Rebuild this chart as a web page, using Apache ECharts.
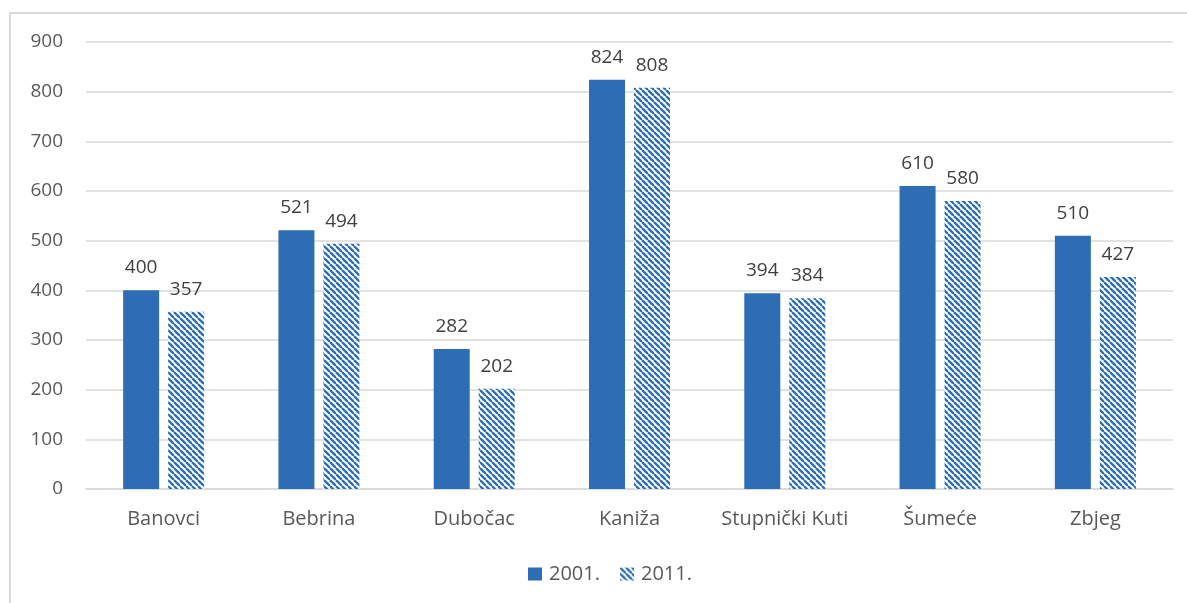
<!DOCTYPE html>
<html><head><meta charset="utf-8">
<script src="https://cdn.jsdelivr.net/npm/echarts@6/dist/echarts.min.js"></script>
<style>html,body{margin:0;padding:0;background:#fff}#c{width:1187px;height:603px}</style>
</head><body><div id="c"></div>
<script>
const categories = ['Banovci','Bebrina','Dubočac','Kaniža','Stupnički Kuti','Šumeće','Zbjeg'];
const values2001 = [400,521,282,824,394,610,510];
const values2011 = [357,494,202,808,384,580,427];
const seriesNames = ['2001.','2011.'];

const blue = '#2C6DB4';
function hatch(){
  const s = 6, c = document.createElement('canvas');
  c.width = s; c.height = s;
  const g = c.getContext('2d');
  g.fillStyle = '#fff'; g.fillRect(0,0,s,s);
  g.strokeStyle = blue; g.lineWidth = 2.3;
  for (let k=-1;k<=1;k++){
    g.beginPath(); g.moveTo(k*s, 0); g.lineTo(k*s + s, s); g.stroke();
  }
  return c;
}
const chart = echarts.init(document.getElementById('c'));
const font = '"Open Sans", sans-serif';
const labelStyle = {show:true, position:'top', distance:13, fontSize:19, color:'#404040', fontFamily:font};
chart.setOption({
  animation:false,
  graphic:[{type:'rect', shape:{x:10, y:13, width:1200, height:620}, style:{fill:'none', stroke:'#d9d9d9', lineWidth:2}, silent:true}],
  grid:{left:86, right:14, top:42, bottom:114},
  legend:{bottom:14, left:523, itemWidth:14, itemHeight:13, itemGap:20, icon:'rect',
    textStyle:{fontSize:20, color:'#595959', fontFamily:font, padding:[0,0,0,2]}, data:seriesNames},
  xAxis:{type:'category', data:categories,
    axisLine:{lineStyle:{color:'#d9d9d9', width:1.5}}, axisTick:{show:false},
    axisLabel:{fontSize:20, color:'#595959', fontFamily:font, margin:20, interval:0}},
  yAxis:{type:'value', min:0, max:900, interval:100,
    axisLine:{show:false}, axisTick:{show:false},
    splitLine:{lineStyle:{color:'#d9d9d9', width:1.5}},
    axisLabel:{fontSize:19, color:'#595959', fontFamily:font, margin:23}},
  series:[
    {name:seriesNames[0], type:'bar', data:values2001, barWidth:36, barGap:'25%', itemStyle:{color:blue}, label:labelStyle},
    {name:seriesNames[1], type:'bar', data:values2011, barWidth:36, itemStyle:{color:{image:hatch(), repetition:'repeat'}}, label:labelStyle}
  ]
});
</script></body></html>
